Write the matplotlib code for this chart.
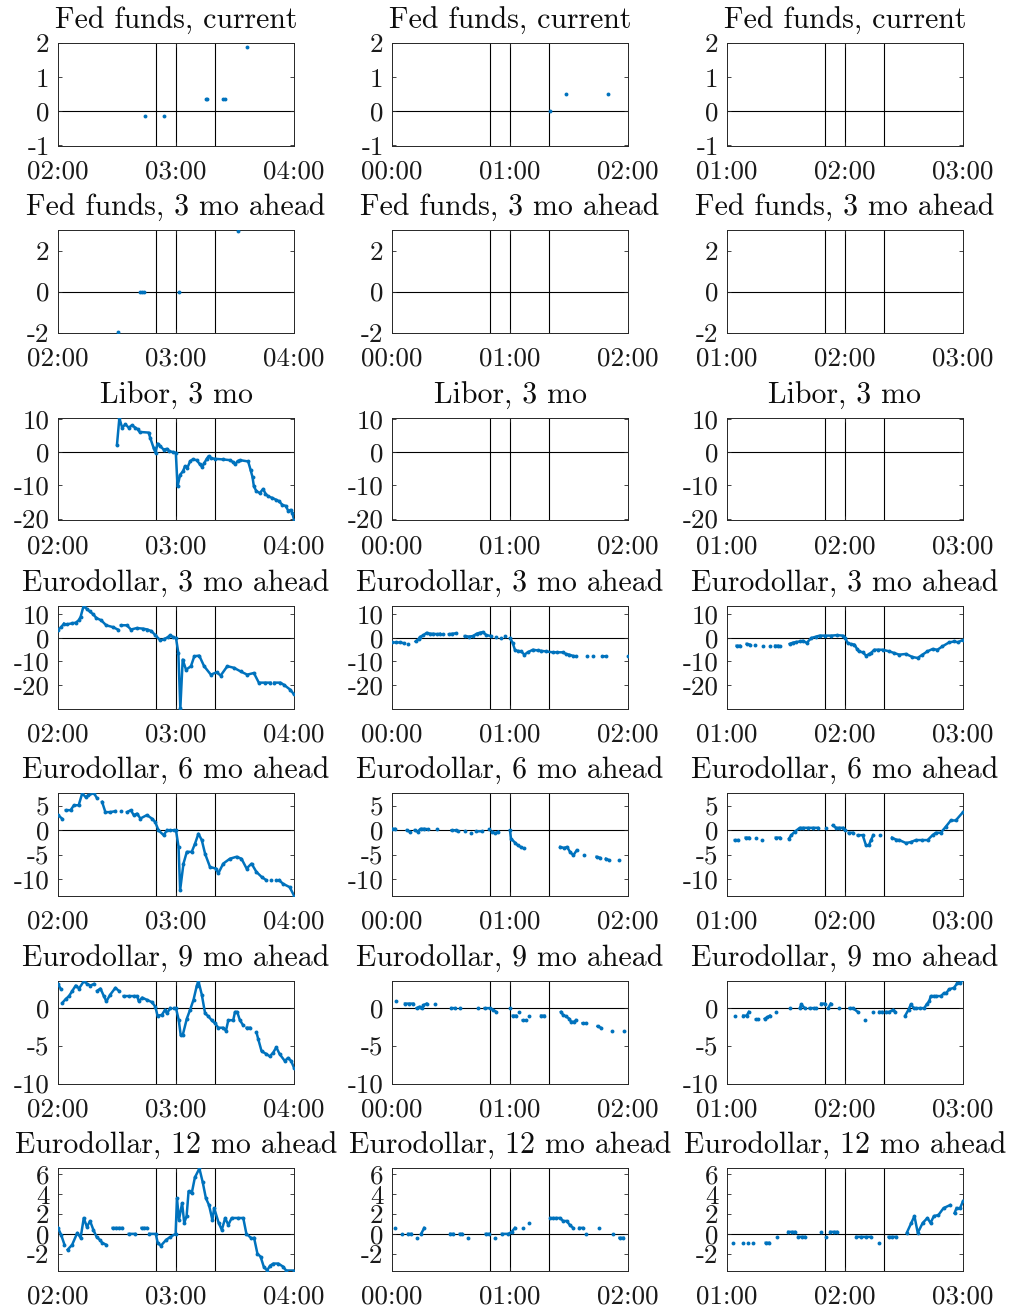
import numpy as np
import matplotlib.pyplot as plt

nan = np.nan

# minutes relative to the announcement; each panel spans -60..+60
# column a: 03:00 event, column b: 01:00 event, column c: 02:00 event

ff_now_a_t = [-16, nan, -6, nan, 15, 16, nan, 24, 25, nan, 36]
ff_now_a_v = [-0.13, nan, -0.13, nan, 0.37, 0.37, nan, 0.37, 0.37, nan, 1.88]
ff_now_b_t = [20.5, nan, 28.6, nan, 49.9]
ff_now_b_v = [0.0, nan, 0.5, nan, 0.5]

ff_3m_a_t = [-29.3, nan, -18.5, -17.5, -16.5, nan, 1.6, nan, 31.4]
ff_3m_a_v = [-1.97, nan, 0.0, 0.0, 0.0, nan, 0.0, nan, 2.97]

libor_a_t = [-30.0, -28.8, -27.4, -25.7, -24.1, -22.4, -20.7, -19.5, -18.5, -13.9, -13.1,
             -11.4, -10.4, -9.4, -8.0, -6.3, -4.6, -3.5, -1.3, -0.1, 0.8, 2.1, 3.5, 4.6,
             5.8, 7.2, 8.5, 10.5, 12.2, 13.2, 14.3, 15.6, 16.6, 17.8, 19.8, 24.1, 27.4,
             29.1, 30.1, 31.3, 32.5, 36.7, 37.9, 38.9, 39.6, 40.9, 42.6, 44.3, 45.5, 46.8,
             49.0, 50.7, 52.4, 54.1, 55.8, 57.1, 58.3, 59.2, 60.0]
libor_a_v = [2.3, 10.3, 7.4, 8.4, 7.4, 8.1, 7.4, 6.9, 6.1, 5.9, 4.3, 1.3, -0.2, 2.6, 1.8,
             0.8, 1.0, 0.3, 0.0, -0.2, -10.3, -6.8, -5.8, -4.2, -4.7, -2.7, -2.2, -2.4,
             -3.7, -4.4, -3.4, -2.0, -1.2, -1.8, -2.0, -2.2, -2.4, -3.0, -3.7, -2.7, -2.4,
             -2.8, -5.3, -7.5, -10.3, -11.8, -12.3, -11.1, -12.5, -13.3, -13.8, -14.3,
             -14.8, -15.9, -16.2, -17.7, -17.4, -18.4, -20.4]

ed3_a_t = [-60, -58.5, -57, nan, -55.5, -53, -51, -49.5, -48.5, -47, -45.5, -43.9, -42,
           -40.5, -38, -35.5, -32, -29.6, nan, -28, -25, -22.9, -20, -17, -14.5, -12.5,
           -10.5, -8, -6.3, -4, -3, -1.5, 0, 1.2, 2.2, 3.4, 5.1, 7.6, 9.3, 11.8, 14.3,
           17.7, 20.7, 22.7, 26.1, 29.5, 32.8, 36.2, 39.6, 42.1, 45, 48, nan, 50, 53.1,
           55, 58.1, 60]
ed3_a_v = [3.6, 4.5, 6.1, nan, 5.8, 6.2, 6.5, 7.5, 9.0, 13.6, 12.5, 11.3, 10.0, 8.5, 7.5,
           5.4, 4.6, 3.6, nan, 5.4, 5.4, 3.6, 4.2, 4.0, 3.6, 2.9, 1.2, -1.0, -0.6, 0.4,
           1.2, 0.4, 0.0, -6.4, -30.0, -9.2, -13.5, -12.0, -7.8, -7.5, -12.0, -15.6,
           -14.6, -16.0, -12.0, -12.7, -14.2, -15.6, -14.9, -19.0, -19.0, -19.0, nan,
           -19.0, -19.0, -20.0, -22.0, -24.0]
ed3_b_t = [-60, -58, -56, -54, nan, -51.7, nan, -48, -46.5, -45.8, -44, -42.4, -40.5, -39,
           -37, -35.7, nan, -34, nan, -31, -29.5, -27.3, nan, -23, -21, -18.8, -17, -15.5,
           -13.8, -12, -9.5, nan, -7, nan, -4.5, nan, -2.5, nan, 0.1, 1.4, 2.6, 4, 5.7,
           7.3, 9, 11.6, 14, 16, 18.3, 21.7, 24, 26.8, 28.5, 30.1, 32, 33.5, nan, 39.4,
           nan, 42, nan, 47, 48.7, nan, 60]
ed3_b_v = [-1.9, -1.9, -1.9, -2.2, nan, -2.5, nan, -1.5, -0.5, 0.4, 1.2, 2.2, 1.8, 1.8,
           1.6, 1.8, nan, 1.8, nan, 1.6, 1.8, 2.0, nan, 0.8, 0.6, 0.8, 1.8, 2.2, 2.5, 1.2,
           0.8, nan, 0.4, nan, 0.0, nan, 0.7, nan, -0.1, -2.2, -5.3, -5.5, -5.7, -7.1,
           -6.1, -5.0, -5.3, -5.5, -5.7, -6.1, -6.1, -6.1, -6.8, -7.1, -7.6, -7.8, nan,
           -7.8, nan, -7.8, nan, -7.8, -7.8, nan, -7.8]
ed3_c_t = [-55.1, -53.5, nan, -50, -48.5, nan, -45.8, nan, -41.6, nan, -38, nan, -35.5,
           -34, nan, -33, nan, -28.1, -26.5, -24.7, -23, -21.4, -19.5, -17.1, -15, -12.9,
           -10.4, -7, -4, -1.1, 0.1, 1.4, 3, 4.8, 6, 7, 9, 10.7, 12, 13.2, 14.9, 17,
           19.2, 22.5, 25, 27.6, 31, 34.3, 36.9, 39.4, 41.9, 44.5, 47, 49.5, 52.9, 55.4,
           57.5, 60]
ed3_c_v = [-3.3, -3.3, nan, -2.5, -2.8, nan, -2.8, nan, -3.3, nan, -3.3, nan, -3.3, -3.3,
           nan, -3.3, nan, -2.5, -2.0, -1.7, -1.5, -1.2, -2.1, 0.0, 0.5, 1.0, 1.0, 1.0,
           1.2, 1.0, 0.0, -2.2, -2.6, -2.8, -4.5, -5.7, -6.1, -7.5, -7.0, -6.4, -5.0,
           -5.0, -5.0, -5.7, -6.4, -7.1, -6.8, -8.1, -8.5, -7.1, -5.7, -4.7, -5.0, -3.6,
           -1.9, -1.5, -1.8, -0.8]

ed6_a_t = [-60, -58, nan, -56, -53.6, -51.9, -49.5, -47.7, -46, -44.5, -41.8, -40.1, nan,
           -37.6, -35.9, -33.4, -30.8, nan, -28, nan, -24.9, -23, -21.5, -19.8, -18.1,
           -14.8, -12.3, -10.6, -8.9, -6.3, -4.6, nan, -3, -1.2, 0, 1.3, 2.1, 3.8, 5.5, 8,
           9.7, 11.4, 13.1, 14.8, 17.3, 20.3, 21.5, 24, 27.4, 30.8, 33.3, 35.9, 38.4,
           40.9, 43.5, 46, nan, 48.5, nan, 51, nan, 52.5, 54.4, 57.8, 60]
ed6_a_v = [3.1, 2.4, nan, 4.1, 4.1, 5.1, 5.1, 7.5, 6.8, 7.1, 7.6, 6.5, nan, 5.8, 3.7, 3.7,
           3.9, nan, 4.0, nan, 3.7, 4.1, 3.1, 3.4, 2.4, 3.1, 2.4, 1.7, 0.0, -1.0, 0.0,
           nan, 0.0, 0.0, 0.0, -3.4, -12.2, -6.8, -4.4, -4.4, -2.7, -0.7, -2.0, -4.8,
           -7.5, -7.8, -8.8, -6.8, -5.8, -5.4, -5.8, -7.8, -6.8, -8.5, -9.5, -10.2, nan,
           -10.2, nan, -10.2, nan, -10.2, -10.9, -11.6, -13.3]
ed6_b_t = [-60, -58.5, nan, -52.5, -51, nan, -48.5, -47, -45.5, -43.5, -41.5, nan, -37.2,
           nan, -29.7, -27.5, -26.3, nan, -23, nan, -20, nan, -17.2, -14, nan, -10.8, nan,
           -9, -7.5, -6, nan, 0, 0.5, 2.5, 4, 5.5, 7, nan, 25.5, 27.5, 29, 30.5, 32.2,
           33.9, nan, 37.6, nan, 44, 45.7, nan, 48.7, 50.4, nan, 55.5]
ed6_b_v = [0.3, 0.3, nan, 0.0, -0.3, nan, 0.0, -0.3, 0.3, 0.3, 0.2, nan, 0.3, nan, 0.0,
           0.0, -0.2, nan, -0.2, nan, -0.5, nan, -0.2, -0.2, nan, 0.2, nan, -0.3, -0.6,
           -0.3, nan, 0.0, -1.7, -2.5, -3.1, -3.4, -3.7, nan, -3.4, -3.6, -3.4, -4.4,
           -5.1, -4.1, nan, -5.1, nan, -5.4, -5.6, nan, -5.8, -6.1, nan, -6.1]
ed6_c_t = [-56, -54.3, nan, -50.5, -48.8, nan, -45.3, nan, -42, nan, -35.2, -33.2, nan,
           -28.5, -27.3, -25.6, -23, -21.4, -19, -16.5, -13.8, nan, -9.9, nan, -6.2, -4.5,
           -2.8, -1.1, nan, 0, nan, 1.9, 4, nan, 6.5, 9, 10.7, 12.1, 13.2, 14.4, nan,
           17.8, nan, 23.9, 25.9, 27.6, 31, 33.5, 36, 39.4, 42, 44.5, 46.2, 48.7, 51.2,
           53.8, 56.3, 60]
ed6_c_v = [-2.0, -2.0, nan, -1.5, -1.5, nan, -1.5, nan, -2.0, nan, -1.5, -1.5, nan, -1.7,
           -1.0, -0.3, 0.5, 0.5, 0.5, 0.5, 0.5, nan, 0.5, nan, 1.0, 0.5, 0.5, 0.5, nan,
           0.0, nan, -0.5, -0.5, nan, -1.0, -1.0, -3.1, -3.1, -2.0, -1.0, nan, -1.0, nan,
           -1.5, -1.9, -2.0, -2.6, -2.4, -2.0, -2.0, -2.0, -1.0, -0.5, -0.5, 0.7, 2.0,
           2.0, 3.7]

ed9_a_t = [-60, -58.7, nan, -57.8, -56.1, -54.4, -52.7, -51, -49.3, -46.8, -45.1, -43.5,
           -41.8, nan, -40.1, -38.4, -36.7, -35.4, -33.4, -30.8, -29.1, nan, -26.6, -24,
           -21.5, -19.8, -18.9, -17.2, -14.8, -12.3, -10.5, -9.4, -7.2, -5.5, -4.6, -2.9,
           nan, -1, 0, 1.4, 2.4, 3.4, 5.5, 7.2, 8.9, 10.6, 11.4, 13.1, 14.8, 16.5, 18.1,
           19.8, 21.5, 24, 25.4, 26.6, 29.1, 30, 31.1, 32.5, 34.2, nan, 35.9, 37.6, nan,
           40.9, 41.8, 43.5, 46, 47.7, 49.4, 51, 52.7, 55.3, 57, 58.5, 60]
ed9_a_v = [3.2, 2.6, nan, 0.7, 1.2, 1.6, 2.3, 3.0, 2.6, 3.6, 3.2, 3.0, 3.2, nan, 2.3, 2.6,
           1.6, 0.9, 1.8, 2.7, 2.3, nan, 1.6, 1.6, 1.6, 1.6, 0.9, 1.4, 1.1, 0.8, 0.2,
           -1.0, -0.9, -0.2, -0.7, 0.0, nan, 0.0, 0.0, -1.6, -3.6, -3.6, -1.4, -0.2, 1.1,
           3.0, 3.6, 1.8, -0.7, -1.1, -1.6, -2.0, -2.6, -2.6, -3.0, -1.6, -1.6, -0.5,
           -0.5, -1.6, -2.3, nan, -2.6, -2.6, nan, -3.2, -4.1, -5.7, -6.1, -6.4, -5.9,
           -5.2, -6.1, -7.0, -6.6, -7.0, -7.9]
ed9_b_t = [-58, nan, -53.4, -51.5, -49.2, nan, -47.5, -46, -45, nan, -44, -42.4, nan,
           -38.2, nan, -29.8, -28.1, nan, -25.2, nan, -16.3, nan, -12.9, -10.4, -8.8, -7,
           nan, 0.1, nan, 1.4, 3.1, nan, 4.8, nan, 6.5, 8.2, nan, 9.9, nan, 15.8, 17.5,
           nan, 25.9, 27, 28.5, 30.1, 31, 32.7, 33.5, nan, 36.9, 38.6, nan, 44.5, 46.2,
           nan, 52.1, nan, 58]
ed9_b_v = [1.0, nan, 0.6, 0.6, 0.6, nan, 0.0, 0.2, 0.0, nan, 0.4, 0.6, nan, 0.6, nan,
           0.0, 0.0, nan, 0.0, nan, 0.0, nan, 0.0, 0.0, -0.2, -0.5, nan, 0.0, nan, -1.0,
           -1.0, nan, -0.5, nan, -1.6, -1.6, nan, -1.0, nan, -1.0, -1.0, nan, -0.5, -0.9,
           -1.1, -1.4, -1.8, -1.8, -1.6, nan, -2.0, -2.0, nan, -2.4, -2.6, nan, -3.0, nan,
           -3.0]
ed9_c_t = [-56, nan, -51.7, -50, -48.9, nan, -45.3, -44.1, nan, -40.8, -39.5, -38.2, nan,
           -35.2, nan, -28.1, nan, -23, -22.2, -20.5, nan, -18, -16, -14.6, nan, -12.1,
           -10.4, nan, -8.5, -7.3, nan, -2.8, nan, 2.3, 4, 6.5, nan, 10.2, nan, 14.1, nan,
           17.5, 19, nan, 21, 22.5, 24.6, 25.5, nan, 30.6, 32.3, 33.5, 35, 36, 38, 40.3,
           41.5, 42.8, 43.6, 45, 46.2, 48.7, 50.4, 51.5, 52.9, 55.4, 57.1, 58.5, 60]
ed9_c_v = [-1.0, nan, -1.0, -1.0, -0.5, nan, -1.5, -1.5, nan, -1.4, -1.2, -1.0, nan, -0.5,
           nan, 0.0, nan, 0.0, 0.5, 0.0, nan, 0.0, 0.0, 0.0, nan, 0.6, 0.6, nan, 0.0, 0.6,
           nan, 0.0, nan, 0.0, 0.0, -0.5, nan, -1.6, nan, -0.5, nan, -0.5, -0.5, nan,
           -0.5, -0.5, -0.2, -0.5, nan, -1.0, -0.2, 0.5, 0.0, 0.0, 0.0, 0.0, 0.5, 0.9,
           1.6, 1.6, 1.6, 1.6, 2.0, 2.0, 2.5, 2.7, 3.3, 3.3, 3.8]

ed12_a_t = [-60, -58.4, -56.7, nan, -55.1, -52.8, -50.2, -48.5, -46.9, -45.3, -43.7, -42,
            -40.4, -38.8, -37.5, -35.5, nan, -32.2, -30.5, -28.9, -27.3, nan, -24, -20.8,
            nan, -17.5, -16.2, -14.9, nan, -13.6, -10.3, -9.3, -7.7, -5, -2.8, -0.2, 0.5,
            1.5, 3.1, 4.2, 5.4, 6.4, 8, 9.6, 11.9, 13.6, 15.2, 16.8, 18.5, 19.4, 21.7,
            23.3, 25, 26.6, 28.3, 31.6, 34.2, 35.8, 38.1, nan, 39.7, 41.4, 43, 44.6, 46.3,
            47.9, 49.5, 52, 54.4, 56, 60]
ed12_a_v = [0.6, -0.1, -1.1, nan, -1.6, -1.1, 0.1, -0.4, 1.6, 0.7, 1.3, 0.4, -0.3, -0.6,
            -0.9, -1.1, nan, 0.6, 0.6, 0.6, 0.6, nan, 0.0, 0.0, nan, 0.6, 0.6, 0.6, nan,
            0.0, 0.0, -0.9, -1.2, -0.6, -0.3, 0.0, 3.6, 1.4, 3.1, 1.1, 1.8, 4.3, 4.1, 5.7,
            6.6, 5.2, 3.6, 2.9, 1.4, 2.6, 1.1, 0.4, 1.6, 0.9, 1.6, 1.6, 1.6, 0.0, -0.4,
            nan, -0.4, -2.0, -2.3, -3.3, -3.7, -3.2, -3.0, -3.0, -3.3, -3.7, -3.7]
ed12_b_t = [-58.4, nan, -55.1, nan, -51.8, -50.1, nan, -47.5, nan, -45.2, -43.6, nan,
            -30.4, -28.8, nan, -25.5, -24.5, nan, -21.2, nan, -12.3, -10.7, nan, -7.4, nan,
            -4.1, -0.8, 0.8, 2.5, nan, 6.4, nan, 9.7, nan, 20.5, 22, 23.5, 25.5, 27, 28.8,
            30.4, 32.1, nan, 35.3, 37, nan, 38.6, nan, 45.2, nan, 52.4, nan, 55.7, 57.7]
ed12_b_v = [0.6, nan, 0.0, nan, 0.0, 0.0, nan, -0.4, nan, 0.0, 0.6, nan, 0.0, 0.0, nan,
            0.0, 0.0, nan, -0.4, nan, 0.0, 0.0, nan, -0.4, nan, 0.0, 0.0, 0.2, 0.6, nan,
            0.6, nan, 1.1, nan, 1.6, 1.6, 1.6, 1.6, 1.3, 1.3, 0.9, 0.6, nan, 0.6, 0.6,
            nan, 0.0, nan, 0.6, nan, 0.0, nan, -0.4, -0.4]
ed12_c_t = [-56.7, nan, -51.8, nan, -49.5, nan, -46.8, nan, -40.3, -38.6, nan, -34.4, nan,
            -28.8, -27, -25.5, nan, -23.8, -22, -20.5, nan, -12.3, nan, -9.7, nan, -7.4,
            -5.7, -4.1, nan, 5.8, 8, 10.5, 13, nan, 17.3, nan, 22.2, 24, 26.1, nan, 31.4,
            33.7, 35.3, 37, 39.5, 41.9, 43.5, 45.2, 47.5, 50.1, 53.4, nan, 55.7, 56.7,
            nan, 58.5, 60]
ed12_c_v = [-0.9, nan, -0.9, nan, -0.9, nan, -0.9, nan, -0.9, -0.9, nan, -0.3, nan, 0.2,
            0.2, 0.2, nan, -0.3, -0.3, -0.3, nan, 0.2, nan, -0.3, nan, 0.2, 0.2, 0.2, nan,
            -0.3, -0.3, -0.3, -0.3, nan, -0.9, nan, -0.3, -0.3, -0.3, nan, 0.1, 1.1, 1.8,
            0.1, 1.1, 1.6, 1.1, 1.8, 1.9, 2.6, 2.9, nan, 2.1, 2.6, nan, 2.6, 3.3]

titles = ['Fed funds, current', 'Fed funds, 3 mo ahead', 'Libor, 3 mo',
          'Eurodollar, 3 mo ahead', 'Eurodollar, 6 mo ahead',
          'Eurodollar, 9 mo ahead', 'Eurodollar, 12 mo ahead']
row_ylims = [(-1, 2), (-2, 3), (-20.6, 10.3), (-30, 13.6), (-13.3, 7.6), (-10, 3.6), (-3.7, 6.65)]
row_yticks = [[-1, 0, 1, 2], [-2, 0, 2], [-20, -10, 0, 10], [-20, -10, 0, 10],
              [-10, -5, 0, 5], [-10, -5, 0], [-2, 0, 2, 4, 6]]
col_xlabels = [['02:00', '03:00', '04:00'], ['00:00', '01:00', '02:00'], ['01:00', '02:00', '03:00']]
event_marks = [-10, 0, 20]

series = [
    [(ff_now_a_t, ff_now_a_v), (ff_now_b_t, ff_now_b_v), None],
    [(ff_3m_a_t, ff_3m_a_v), None, None],
    [(libor_a_t, libor_a_v), None, None],
    [(ed3_a_t, ed3_a_v), (ed3_b_t, ed3_b_v), (ed3_c_t, ed3_c_v)],
    [(ed6_a_t, ed6_a_v), (ed6_b_t, ed6_b_v), (ed6_c_t, ed6_c_v)],
    [(ed9_a_t, ed9_a_v), (ed9_b_t, ed9_b_v), (ed9_c_t, ed9_c_v)],
    [(ed12_a_t, ed12_a_v), (ed12_b_t, ed12_b_v), (ed12_c_t, ed12_c_v)],
]

plt.rcParams['font.family'] = 'cmr10'
plt.rcParams['axes.unicode_minus'] = False
plt.rcParams['mathtext.fontset'] = 'cm'

W, H = 1011, 1309
fig = plt.figure(figsize=(W / 100, H / 100), dpi=100)

lefts = [58, 392, 727]
tops = [43, 230, 418, 606, 793, 981, 1168]
aw, ah = 236, 102.5

for r in range(7):
    for c in range(3):
        ax = fig.add_axes([lefts[c] / W, 1 - (tops[r] + ah) / H, aw / W, ah / H])
        for xm in event_marks:
            ax.axvline(xm, color='k', lw=0.8, zorder=1)
        ax.axhline(0, color='k', lw=0.8, zorder=1)
        if series[r][c] is not None:
            t, v = series[r][c]
            ax.plot(t, v, color='#0072BD', lw=1.8, marker='o', ms=2.8,
                    markeredgewidth=0, zorder=3)
        ax.set_xlim(-60, 60)
        ax.set_ylim(*row_ylims[r])
        ax.set_xticks([-60, 0, 60])
        ax.set_xticklabels(col_xlabels[c])
        ax.set_yticks(row_yticks[r])
        ax.set_yticklabels([f'{y:g}' for y in row_yticks[r]])
        ax.tick_params(direction='in', top=True, right=True, length=3, width=0.6,
                       labelsize=19.5, colors='0.15', labelcolor='0.1')
        ax.tick_params(axis='x', pad=10.5)
        ax.tick_params(axis='y', pad=6)
        for s in ax.spines.values():
            s.set_color('0.15')
            s.set_linewidth(0.7)
        ax.set_title(titles[r], fontsize=21.5, pad=10, color='0.05')

fig.savefig('out.png', dpi=100)
